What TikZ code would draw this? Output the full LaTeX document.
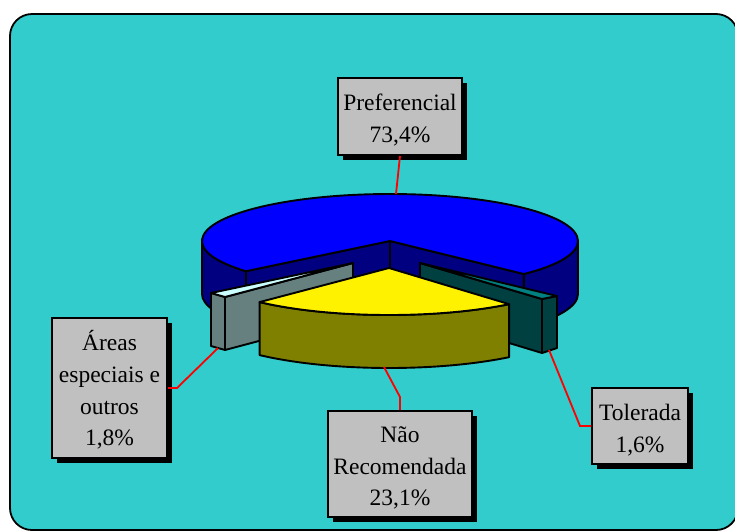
\documentclass[tikz,border=0pt]{standalone}
\usepackage{fontspec}
\setmainfont{Liberation Serif}
\usetikzlibrary{shadows,calc}
\definecolor{bgc}{HTML}{33CCCC}
\definecolor{navy}{HTML}{000080}
\definecolor{olivec}{HTML}{808000}
\definecolor{tealtop}{HTML}{008080}
\definecolor{tealside}{HTML}{004040}
\definecolor{graytop}{HTML}{CCFFFF}
\definecolor{grayside}{HTML}{668080}
\definecolor{lblfill}{HTML}{C0C0C0}
\newcommand\firststrut{\rule{0pt}{24pt}}
\begin{document}
\begin{tikzpicture}[x=1pt,y=-1pt,
  face/.style={draw=black,line width=1.9pt,line join=round},
  lbox/.style={draw=black,line width=2pt,fill=lblfill,align=center,inner sep=0pt,
     font=\fontsize{23.5}{31.7}\selectfont,
     drop shadow={shadow xshift=5pt,shadow yshift=-5pt,fill=black,opacity=1}},
  leader/.style={draw=red,line width=1.8pt},
  ell/.style={x radius=188pt,y radius=47pt}]
\useasboundingbox (0,0) rectangle (735,531);
\fill[white] (0,0) rectangle (735,531);
\draw[fill=bgc,line width=1.8pt,rounded corners=22pt] (10,14) rectangle (738,530);

% ---- Preferencial (blue) ----
\coordinate (C) at (390,241);
\coordinate (Cb) at (390,294);
\filldraw[face,fill=navy] (C) -- ($(C)+(220:188pt and 47pt)$) -- ++(0,53) -- (Cb) -- cycle;
\filldraw[face,fill=navy] (C) -- ($(C)+(315.4:188pt and 47pt)$) -- ++(0,53) -- (Cb) -- cycle;
\filldraw[face,fill=navy] ($(C)+(180:188pt and 47pt)$) arc[start angle=180,end angle=220,ell]
   -- ++(0,53) arc[start angle=220,end angle=180,ell] -- cycle;
\filldraw[face,fill=navy] ($(C)+(315.4:188pt and 47pt)$) arc[start angle=315.4,end angle=360,ell]
   -- ++(0,53) arc[start angle=360,end angle=315.4,ell] -- cycle;
\filldraw[face,fill=blue] (C) -- ($(C)+(315.4:188pt and 47pt)$) arc[start angle=315.4,end angle=580,ell] -- cycle;

% ---- Areas especiais (grey) ----
\filldraw[face,fill=grayside] (225,297) -- (353,263) -- (353,316) -- (225,350) -- cycle;
\filldraw[face,fill=grayside] (211,293) -- (225,297) -- (225,350) -- (211,346) -- cycle;
\filldraw[face,fill=graytop] (353,263) -- (211,293) -- (225,297) -- cycle;

% ---- Tolerada (teal) ----
\filldraw[face,fill=tealside] (420,263) -- (542,299) -- (542,353) -- (420,316) -- cycle;
\filldraw[face,fill=tealside] (542,299) -- (557,296) -- (557,348) -- (542,353) -- cycle;
\filldraw[face,fill=tealtop] (420,263) -- (542,299) -- (557,296) -- cycle;

% ---- Nao Recomendada (yellow) ----
\coordinate (A) at (389,268);
\filldraw[face,fill=olivec] ($(A)+(226.5:188pt and 47pt)$) arc[start angle=226.5,end angle=309.7,ell]
   -- ++(0,53) arc[start angle=309.7,end angle=226.5,ell] -- cycle;
\filldraw[face,fill=yellow] (A) -- ($(A)+(226.5:188pt and 47pt)$) arc[start angle=226.5,end angle=309.7,ell] -- cycle;

% ---- labels ----
\coordinate (pA) at (396,194);
\coordinate (gA) at (218,348);
\coordinate (tA) at (549,350);
\coordinate (nA) at (384,367);

\node[lbox,minimum width=124pt,minimum height=77pt] (pref) at (400,116.5) {\firststrut Preferencial\\73,4\%};
\node[lbox,minimum width=115pt,minimum height=140pt] (areas) at (109.5,388) {\firststrut Áreas\\especiais e\\outros\\1,8\%};
\node[lbox,minimum width=96pt,minimum height=76pt] (tol) at (640,426) {\firststrut Tolerada\\1,6\%};
\node[lbox,minimum width=144pt,minimum height=106pt] (nao) at (400,464) {\firststrut Não\\Recomendada\\23,1\%};

\draw[leader] (pref.south) -- (pA);
\draw[leader] (areas.east) -- ++(9,0) -- (gA);
\draw[leader] (tol.west) -- ++(-11,0) -- (tA);
\draw[leader] (nao.north) -- ++(0,-13) -- (nA);
\end{tikzpicture}
\end{document}
